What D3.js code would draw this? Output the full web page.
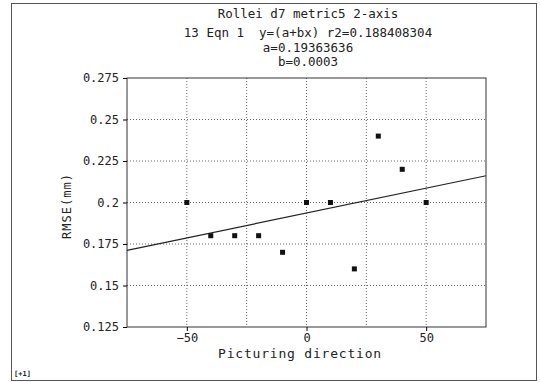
<!DOCTYPE html>
<html>
<head>
<meta charset="utf-8">
<script src="https://cdn.jsdelivr.net/npm/d3@7"></script>
<style>
  body { margin: 0; background: #fff; }
  text { font-family: "DejaVu Sans Mono", monospace; fill: #222; }
</style>
</head>
<body>
<div id="chart"></div>
<script>
// picturing direction vs RMSE
const directions = [-50, -40, -30, -20, -10, 0, 10, 20, 30, 40, 50];
const rmse = [0.2, 0.18, 0.18, 0.18, 0.17, 0.2, 0.2, 0.16, 0.24, 0.22, 0.2];
const xTicks = [-50, 0, 50];
const yTicks = [0.125, 0.15, 0.175, 0.2, 0.225, 0.25, 0.275];
const titleLines = ["Rollei d7 metric5 2-axis", "13 Eqn 1  y=(a+bx) r2=0.188408304", "a=0.19363636", "b=0.0003"];
const coefA = 0.19363636, coefB = 0.0003;

const W = 540, H = 382;
const margin = {top: 78, right: 54, bottom: 55, left: 127},
    width = W - margin.left - margin.right,
    height = H - margin.top - margin.bottom;

const svg = d3.select("#chart").append("svg")
    .attr("width", W).attr("height", H);

// outer frame
svg.append("rect")
    .attr("x", 11.5).attr("y", 3.5).attr("width", 525).attr("height", 377)
    .attr("fill", "none").attr("stroke", "#555").attr("stroke-width", 1);

svg.selectAll(".title")
    .data(titleLines)
    .enter().append("text")
    .attr("class", "title")
    .attr("x", 308)
    .attr("y", (d, i) => [18, 37, 52, 66][i])
    .attr("text-anchor", "middle")
    .style("font-size", "12.5px")
    .style("white-space", "pre")
    .text(d => d);

const g = svg.append("g")
    .attr("transform", "translate(" + margin.left + "," + margin.top + ")");

const x = d3.scaleLinear().domain([-75, 75]).range([0, width]);
const y = d3.scaleLinear().domain([0.125, 0.275]).range([height, 0]);

// grid
g.selectAll(".vgrid")
    .data(d3.range(-50, 75, 25))
    .enter().append("line")
    .attr("x1", d => x(d)).attr("x2", d => x(d))
    .attr("y1", 0).attr("y2", height)
    .attr("stroke", "#666").attr("stroke-dasharray", "1,2");
g.selectAll(".hgrid")
    .data(yTicks.slice(1, -1))
    .enter().append("line")
    .attr("x1", 0).attr("x2", width)
    .attr("y1", d => y(d)).attr("y2", d => y(d))
    .attr("stroke", "#666").attr("stroke-dasharray", "1,2");

g.append("rect")
    .attr("width", width).attr("height", height)
    .attr("fill", "none").attr("stroke", "#333");

const yAxis = g.append("g")
    .call(d3.axisLeft(y).tickValues(yTicks).tickSize(4).tickFormat(d => d3.format("")(+d.toFixed(3))));
yAxis.select(".domain").remove();
yAxis.selectAll("text").style("font-size", "12px").attr("x", -8);

const xAxis = g.append("g")
    .attr("transform", "translate(0," + height + ")")
    .call(d3.axisBottom(x).tickValues(xTicks).tickSize(4));
xAxis.select(".domain").remove();
xAxis.selectAll("text").style("font-size", "12px").attr("y", 6);

// regression line
const xs = x.domain();
g.append("line")
    .attr("x1", x(xs[0])).attr("y1", y(coefA + coefB * xs[0]))
    .attr("x2", x(xs[1])).attr("y2", y(coefA + coefB * xs[1]))
    .attr("stroke", "#222").attr("stroke-width", 1.2);

g.selectAll(".pt")
    .data(directions)
    .enter().append("rect")
    .attr("x", d => x(d) - 2.5)
    .attr("y", (d, i) => y(rmse[i]) - 2.5)
    .attr("width", 5).attr("height", 5)
    .attr("fill", "#111");

svg.append("text")
    .attr("x", 300).attr("y", 358)
    .attr("text-anchor", "middle")
    .style("font-size", "13px").style("letter-spacing", "0.8px")
    .text("Picturing direction");

svg.append("text")
    .attr("transform", "translate(71,206) rotate(-90)")
    .attr("text-anchor", "middle")
    .style("font-size", "12px").style("letter-spacing", "1px")
    .text("RMSE(mm)");

svg.append("text")
    .attr("x", 14).attr("y", 376)
    .style("font-size", "7px").style("font-weight", "bold")
    .text("[+1]");
</script>
</body>
</html>
